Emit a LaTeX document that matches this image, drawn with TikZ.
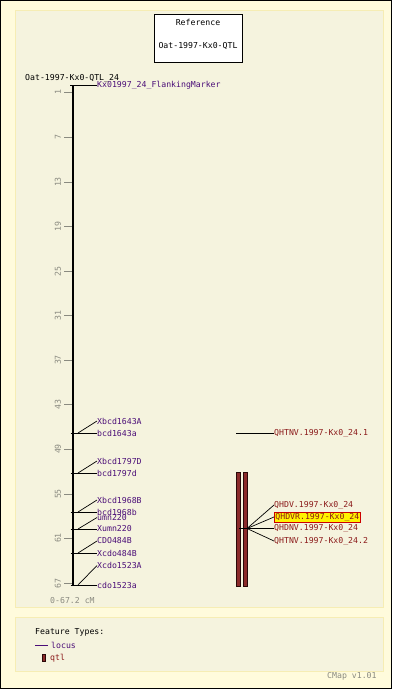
\documentclass[tikz,border=0pt]{standalone}
\usepackage{fontspec}
\setmonofont{DejaVu Sans Mono}
\definecolor{outerbg}{HTML}{FFFBDC}
\definecolor{panelbg}{HTML}{F5F3DE}
\definecolor{panelrule}{HTML}{F6EDB4}
\definecolor{locuscol}{HTML}{4B0E78}
\definecolor{qtlcol}{HTML}{8B1A1A}
\definecolor{qtlfill}{HTML}{8B2A2A}
\definecolor{scalecol}{HTML}{8A8A80}
\tikzset{
  txt/.style={font=\ttfamily\fontsize{8.2}{9}\selectfont, inner sep=0pt, anchor=west},
  locuslbl/.style={txt, text=locuscol},
  qtllbl/.style={txt, text=qtlcol},
  scalelbl/.style={font=\ttfamily\fontsize{8.2}{9}\selectfont, inner sep=0pt, text=scalecol, rotate=90},
  conn/.style={black, line width=0.7pt},
  scaletick/.style={scalecol, line width=0.8pt},
  qtlbar/.style={draw=black!70!qtlcol, fill=qtlfill, line width=0.6pt},
}
\begin{document}
\begin{tikzpicture}[x=1pt,y=-1pt]
\useasboundingbox (0,0) rectangle (392,689);
\fill[outerbg] (0,0) rectangle (392,689);
\draw[black, line width=1.2pt] (0.6,0.6) rectangle (391.4,688.4);
% panels
\draw[panelrule, fill=panelbg, line width=1pt] (15,10) rectangle (383,607);
\draw[panelrule, fill=panelbg, line width=1pt] (15,617) rectangle (383,671);
% reference box
\node[draw=black, fill=white, line width=0.8pt, minimum width=88pt, minimum height=48pt, inner sep=0pt] (refbox) at (198,38) {};
\node[txt, anchor=center] (reftitle) at (198,22) {Reference};
\node[txt, anchor=center] (refname) at (198,46) {Oat-1997-Kx0-QTL};
% map title
\node[txt] (maptitle) at (25,78) {Oat-1997-Kx0-QTL\_24};
% chromosome
\coordinate (ctop) at (73,85);
\coordinate (cbot) at (73,586);
\draw[black, line width=2.6pt] (ctop) -- (cbot);
% scale ticks
\foreach \v/\y in {1/92.5,7/137,13/182,19/226.5,25/271.5,31/315.5,37/360,43/404.5,49/449,55/494,61/538,67/583.5}{
  \draw[scaletick] (64,\y) -- (72,\y);
  \node[scalelbl] at (58,\y) {\v};
}
\node[txt, text=scalecol] (scalelabel) at (50,601) {0-67.2 cM};
% flanking marker
\coordinate (fk) at (76,85.5);
\draw[conn] (70,85.5) -- (fk);
\node[locuslbl] (flank) at (97,85.5) {Kx01997\_24\_FlankingMarker};
\draw[conn] (fk) -- (flank.west);
% loci: tick y, lower label, upper label y, upper label
\foreach \n/\ty/\lo/\uy/\up in {
  a/433/bcd1643a/421/Xbcd1643A,
  b/473/bcd1797d/461/Xbcd1797D,
  c/512/bcd1968b/500/Xbcd1968B,
  d/529/Xumn220/517.5/umn220,
  e/553/Xcdo484B/541/CDO484B,
  f/585/cdo1523a/565.5/Xcdo1523A}{
  \coordinate (t\n) at (78,\ty);
  \draw[conn] (70.5,\ty) -- (t\n);
  \node[locuslbl] (lo\n) at (97,\ty) {\lo};
  \node[locuslbl] (up\n) at (97,\uy) {\up};
  \draw[conn] (t\n) -- (lo\n.west);
  \draw[conn] (t\n) -- (up\n.west);
}
% QTL bars
\node[qtlbar, minimum width=4pt, minimum height=114pt, inner sep=0pt] (bar1) at (238,529) {};
\node[qtlbar, minimum width=4pt, minimum height=114pt, inner sep=0pt] (bar2) at (245,529) {};
% QTL single
\coordinate (q1s) at (236,433);
\node[qtllbl] (q1) at (274,433) {QHTNV.1997-Kx0\_24.1};
\draw[conn] (q1s) -- (q1.west);
% QTL group
\coordinate (qg) at (247,528.5);
\draw[conn] (239,528.5) -- (qg);
\node[qtllbl] (q2) at (274,505) {QHDV.1997-Kx0\_24};
\node[qtllbl, fill=yellow, draw=red!80!black, line width=0.8pt, inner sep=1pt] (q3) at (274,517) {QHDVR.1997-Kx0\_24};
\node[qtllbl] (q4) at (274,528.5) {QHDNV.1997-Kx0\_24};
\node[qtllbl] (q5) at (274,541) {QHTNV.1997-Kx0\_24.2};
\draw[conn] (qg) -- (q2.west);
\draw[conn] (qg) -- (q3.west);
\draw[conn] (qg) -- (q4.west);
\draw[conn] (qg) -- (q5.west);
% legend
\node[txt] (legtitle) at (35,632) {Feature Types:};
\coordinate (lgl1) at (35,645);
\coordinate (lgl2) at (48,645);
\draw[locuscol, line width=0.9pt] (lgl1) -- (lgl2);
\node[locuslbl] (leglocus) at (51,645) {locus};
\node[qtlbar, minimum width=3pt, minimum height=7pt, inner sep=0pt] (legbar) at (44,658) {};
\node[qtllbl] (legqtl) at (50,658) {qtl};
\node[txt, text=scalecol] (cmap) at (327,676) {CMap v1.01};
\end{tikzpicture}
\end{document}
